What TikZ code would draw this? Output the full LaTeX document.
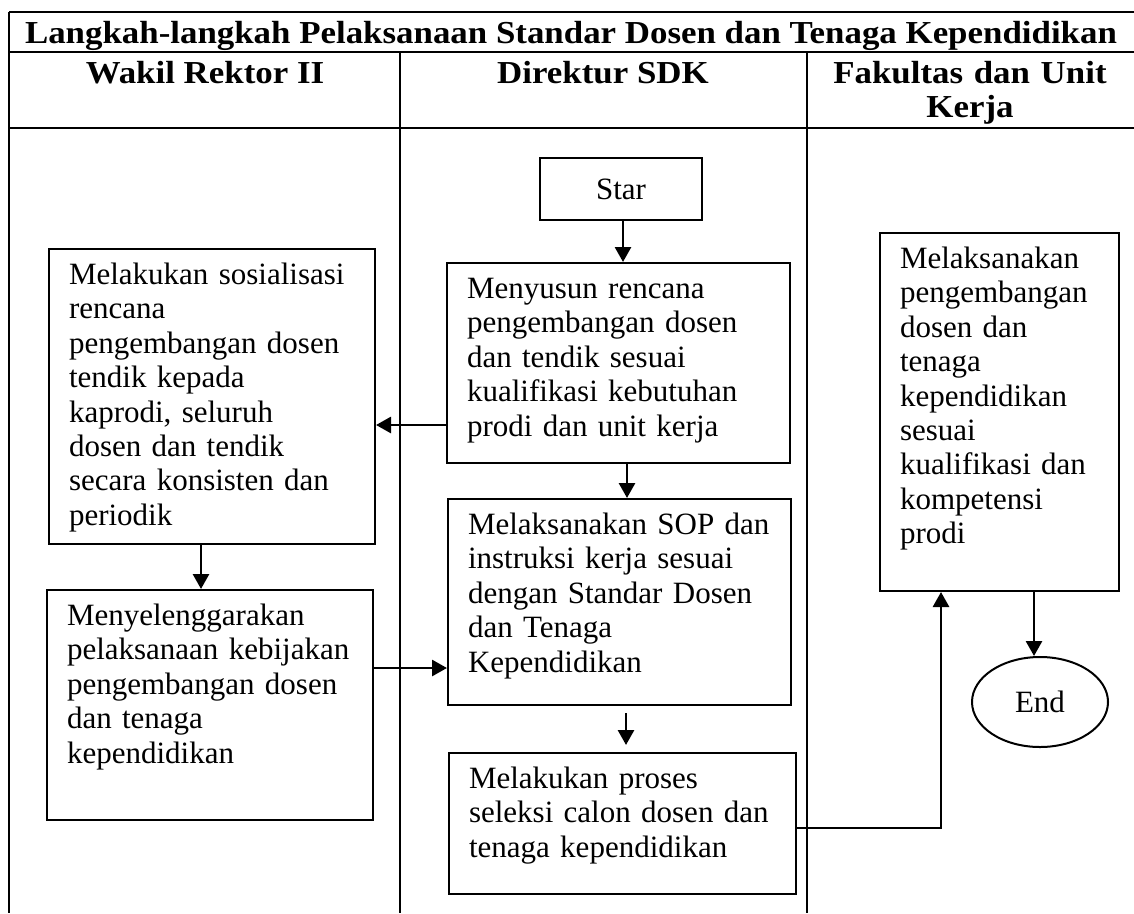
\documentclass[tikz,border=0pt]{standalone}
\usepackage{fontspec}
\setmainfont{Liberation Serif}
\newfontfamily\headfont{Liberation Serif}[FakeStretch=1.09]
\usepackage{tikz}
\usetikzlibrary{arrows.meta,shapes.geometric}

\begin{document}
\begin{tikzpicture}[
    x=1pt, y=-1pt,
    every node/.style={font=\fontsize{31}{34.4}\selectfont},
    lane/.style={draw, line width=2.6pt},
    head/.style={font=\headfont\bfseries\fontsize{32}{34}\selectfont, anchor=base, align=center, inner sep=0pt},
    stepbox/.style={draw, line width=2pt, anchor=north west, align=left, inner xsep=20pt, inner ysep=0pt, text height=35.5pt},
    flow/.style={-{Triangle[length=15pt,width=16pt]}, line width=2.8pt}
]
    \useasboundingbox (0,0) rectangle (1134,913);

    % Table frame and lanes
    \draw[lane] (9,12) -- (1134,12);
    \draw[lane] (9,52) -- (1134,52);
    \draw[lane] (9,128) -- (1134,128);
    \draw[lane] (9,12) -- (9,913);
    \draw[lane] (400,52) -- (400,913);
    \draw[lane] (807,52) -- (807,913);

    \node[head] (title) at (571,43) {Langkah-langkah Pelaksanaan Standar Dosen dan Tenaga Kependidikan};
    \node[head] (wr) at (205,83) {Wakil Rektor II};
    \node[head] (dir) at (603,83) {Direktur SDK};
    \node[head, text width=300pt] (fak) at (970,83) {Fakultas dan Unit\\Kerja};

    % Direktur SDK
    \node[draw, line width=2pt, anchor=north west, minimum width=162pt, minimum height=62pt] (start) at (539,157) {Star};
    \node[stepbox, text width=303pt, text depth=164.5pt] (plan) at (446,262) {Menyusun rencana\\pengembangan dosen\\dan tendik sesuai\\kualifikasi kebutuhan\\prodi dan unit kerja};
    \node[stepbox, text width=303pt, text depth=170.5pt] (sop) at (447,498) {Melaksanakan SOP dan\\instruksi kerja sesuai\\dengan Standar Dosen\\dan Tenaga\\Kependidikan};
    \node[stepbox, text width=307pt, text depth=105.5pt] (seleksi) at (448,752) {Melakukan proses\\seleksi calon dosen dan\\tenaga kependidikan};

    % Wakil Rektor II
    \node[stepbox, text width=286pt, text depth=259.5pt] (sosial) at (48,248) {Melakukan sosialisasi\\rencana\\pengembangan dosen\\tendik kepada\\kaprodi, seluruh\\dosen dan tendik\\secara konsisten dan\\periodik};
    \node[stepbox, text width=286pt, text depth=194.5pt] (impl) at (46,589) {Menyelenggarakan\\pelaksanaan kebijakan\\pengembangan dosen\\dan tenaga\\kependidikan};

    % Fakultas dan Unit Kerja
    \node[stepbox, text width=199pt, text depth=322.5pt] (lakspeng) at (879,232) {Melaksanakan\\pengembangan\\dosen dan\\tenaga\\kependidikan\\sesuai\\kualifikasi dan\\kompetensi\\prodi};
    \node[ellipse, draw, line width=2pt, minimum width=136pt, minimum height=90pt, inner sep=0pt] (finish) at (1040,702) {End};

    % Flow
    \draw[flow] ([xshift=2pt]start.south) -- ([xshift=2pt]start.south |- plan.north);
    \draw[flow] ([yshift=-62pt]plan.west) -- ([yshift=-62pt]plan.west -| sosial.east);
    \draw[flow] ([xshift=8.5pt]plan.south) -- ([xshift=8.5pt]plan.south |- sop.north);
    \draw[flow] ([xshift=-11pt]sosial.south) -- ([xshift=-11pt]sosial.south |- impl.north);
    \draw[flow] ([yshift=37pt]impl.east) -- ([yshift=37pt]impl.east -| sop.west);
    \draw[flow, shorten <=7pt, shorten >=7pt] ([xshift=6.5pt]sop.south) -- ([xshift=6.5pt]sop.south |- seleksi.north);
    \draw[flow] ([yshift=-4.5pt]seleksi.east) -| ([xshift=-58.5pt]lakspeng.south);
    \draw[flow] ([xshift=34.5pt]lakspeng.south) -- ([xshift=34.5pt]lakspeng.south |- finish.north);
\end{tikzpicture}
\end{document}
